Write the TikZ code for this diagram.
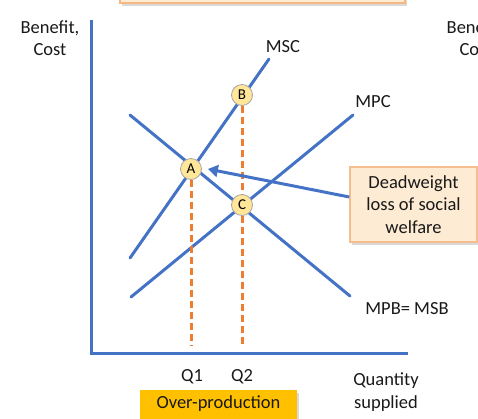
\documentclass[tikz,border=0pt]{standalone}
\usepackage{fontspec}
\setmainfont{Carlito}
\usetikzlibrary{shadows,arrows.meta,calc}
\definecolor{lblue}{HTML}{4472C4}
\definecolor{lorange}{HTML}{ED7D31}
\definecolor{peach}{HTML}{FDEBD3}
\definecolor{peachedge}{HTML}{F6BD8E}
\definecolor{ptfill}{HTML}{FFE699}
\definecolor{gold}{HTML}{FFC000}
\tikzset{
  curve/.style={lblue, line width=3pt, line cap=round},
  axisline/.style={lblue, line width=3pt},
  dashline/.style={lorange, line width=3pt, dash pattern=on 7pt off 4pt},
  pt/.style={circle, draw=black!35, fill=ptfill, line width=0.8pt, minimum size=21pt, inner sep=0pt, font=\fontsize{15}{15}\selectfont},
  lbl/.style={font=\fontsize{18.5}{22.5}\selectfont, text=black!90, inner sep=0pt, align=center},
  callout/.style={draw=peachedge, fill=peach, line width=1.5pt, drop shadow={opacity=0.3, shadow xshift=2pt, shadow yshift=-3pt}},
}
\begin{document}
\begin{tikzpicture}[x=1pt, y=-1pt]
\useasboundingbox (0,0) rectangle (478,418);
\begin{scope}
\clip (0,0) rectangle (478,418);
% top box (cut off)
\node[callout, draw=peachedge!90!orange, line width=2.5pt, minimum width=285pt, minimum height=40pt, inner sep=0pt] (topbox) at (262.5,-17) {};
% axes
\coordinate (origin) at (91,353);
\coordinate (ytop) at (91,20);
\coordinate (xend) at (408,353);
\draw[axisline] (ytop) -- (origin) -- (xend);
% axis labels
\node[lbl] (yl) at (50,38) {Benefit,\\Cost};
\node[lbl] (yr) at (476,38) {Benefit,\\Cost};
\node[lbl] (xl) at (386,392) {Quantity\\supplied};
% curves
\coordinate (msc1) at (130,258);
\coordinate (msc2) at (269,59);
\coordinate (mpb1) at (130,115);
\coordinate (mpb2) at (350,296);
\coordinate (mpc1) at (131,297);
\coordinate (mpc2) at (353,115);
\draw[curve] (msc1) -- (msc2);
\draw[curve] (mpb1) -- (mpb2);
\draw[curve] (mpc1) -- (mpc2);
% dashed lines
\coordinate (q1b) at (191,346);
\coordinate (q2b) at (242,346);
\coordinate (Apos) at (191,169);
\coordinate (Bpos) at (242,95);
\draw[dashline] (Apos) -- (q1b);
\draw[dashline] (Bpos) -- (q2b);
% points
\node[pt] (A) at (Apos) {A};
\node[pt] (B) at (Bpos) {B};
\node[pt] (C) at (242,205) {C};
% curve labels
\node[lbl] (msc) at (283,47) {MSC};
\node[lbl] (mpc) at (373,102) {MPC};
\node[lbl] (mpb) at (407,309) {MPB= MSB};
\node[lbl] (q1) at (192,377) {Q1};
\node[lbl] (q2) at (242,377) {Q2};
% deadweight box
\node[callout, lbl, minimum width=127pt, minimum height=75pt, inner sep=0pt] (dwl) at (413.5,204.5) {Deadweight\\loss of social\\welfare};
\coordinate (arry) at (0,197);
\draw[curve, -{Triangle[length=10pt, width=12pt]}, line cap=butt] (dwl.west |- arry) -- ($(A.east)+(6,0)$);
% over-production
\node[lbl, fill=gold, minimum width=157pt, minimum height=32pt, drop shadow={opacity=0.3, shadow xshift=2pt, shadow yshift=-3pt}] (over) at (218.5,406) {};
\node[lbl] (overt) at (218.5,404) {Over-production};
\end{scope}
\end{tikzpicture}
\end{document}
